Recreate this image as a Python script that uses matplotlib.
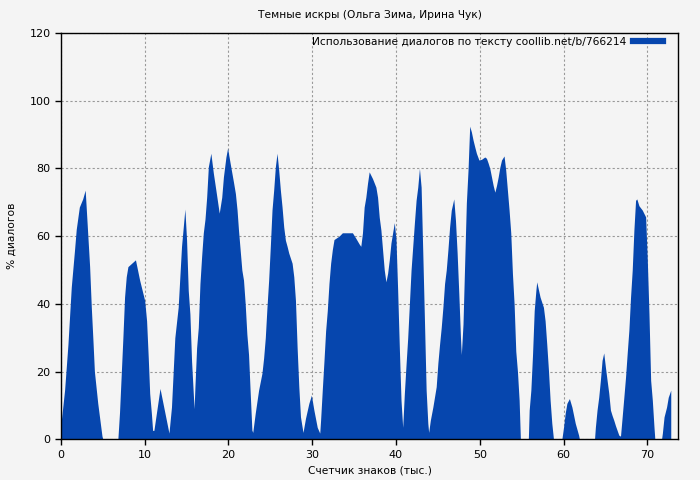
import matplotlib.pyplot as plt
from matplotlib.lines import Line2D

# счетчик знаков (тыс.) и % диалогов
chars = [
    0, 0.44, 0.84, 1.24, 1.63, 1.83, 2.2, 2.6, 2.9, 3.43, 3.63, 3.83, 4.0, 4.4, 4.9, 5.0,
    6.8, 7.0, 7.4, 7.6, 7.8, 8.0, 8.9, 9.4, 10.0, 10.23, 10.43, 10.6, 10.8, 10.95, 11.1,
    11.83, 12.9, 13.2, 13.6, 14.0, 14.4, 14.8, 15.0, 15.2, 15.4, 15.6, 15.9,
    16.0, 16.2, 16.4, 16.6, 16.8, 17.0, 17.2, 17.4, 17.6, 17.9, 18.2, 18.5, 18.9,
    19.2, 19.4, 19.7, 19.9, 20.2, 20.6, 20.83, 21.03, 21.2, 21.4, 21.6, 21.8, 22.0,
    22.2, 22.4, 22.6, 22.8, 22.9, 23.2, 23.6, 24.0, 24.2, 24.4, 24.6, 24.8, 25.0,
    25.2, 25.4, 25.6, 25.8, 26.0, 26.2, 26.4, 26.6, 26.8, 27.0, 27.2, 27.4, 27.6,
    27.8, 28.0, 28.2, 28.4, 28.6, 28.9, 29.2, 29.6, 29.9, 30.2, 30.6, 30.9,
    31.0, 31.2, 31.4, 31.6, 31.8, 32.0, 32.2, 32.4, 32.6, 32.9, 33.2, 33.6, 34.8,
    35.2, 35.6, 35.8, 36.0, 36.2, 36.4, 36.6, 36.8, 37.2, 37.6, 37.8, 38.0, 38.2,
    38.4, 38.6, 38.8, 39.0, 39.2, 39.4, 39.6, 39.8, 40.0, 40.2, 40.4, 40.6, 40.8,
    41.0, 41.2, 41.4, 41.6, 41.8, 42.0, 42.2, 42.4, 42.6, 42.8, 43.0, 43.2, 43.4,
    43.6, 43.8, 43.9, 44.1, 44.4, 44.8, 45.0, 45.2, 45.4, 45.6, 45.8, 46.0, 46.2,
    46.4, 46.6, 46.9, 47.1, 47.3, 47.5, 47.7, 47.8, 48.0, 48.2, 48.4, 48.6, 48.8,
    49.0, 49.2, 49.4, 49.6, 49.9, 50.2, 50.6, 50.8, 51.0, 51.2, 51.4, 51.6, 51.8,
    52.0, 52.2, 52.4, 52.6, 52.9, 53.1, 53.3, 53.5, 53.7, 53.9, 54.1, 54.3, 54.5,
    54.7, 54.85, 55.8, 55.9, 56.1, 56.3, 56.5, 56.7, 56.8, 57.2, 57.6, 57.8, 58.0,
    58.2, 58.4, 58.6, 58.8, 59.8, 60.0, 60.2, 60.4, 60.7, 61.0, 61.4, 61.8, 61.9,
    63.7, 63.8, 64.0, 64.2, 64.4, 64.6, 64.8, 65.0, 65.2, 65.4, 65.6, 65.8, 66.0,
    66.2, 66.4, 66.6, 66.8, 67.0, 67.2, 67.4, 67.6, 67.8, 68.0, 68.2, 68.4, 68.6,
    68.75, 69.0, 69.4, 69.8, 70.0, 70.2, 70.4, 70.6, 70.8, 70.9, 71.7, 71.8, 72.0,
    72.3, 72.5, 72.8,
]
dialog = [
    4.4, 14.5, 28, 45, 56, 62, 68.6, 71, 73.6, 51, 39, 29, 20, 10.6, 1, 0,
    0, 8, 30, 42, 48, 51, 53, 47, 41, 35, 24, 13.5, 7.7, 2.6, 2.6,
    15, 1.8, 9.5, 30, 39, 57, 68, 59, 44, 37, 23, 9,
    15.5, 27, 33, 46, 54, 61, 65, 71.5, 80.5, 84.5, 78.6, 73.6, 66.8,
    71.5, 77.5, 83.4, 86, 81.6, 76, 72.6, 67.7, 61.8, 55.9, 50, 47, 40,
    31, 25, 13.6, 2.7, 2, 7.7, 14.5, 19.5, 24, 30, 39, 47, 57,
    67.7, 73.6, 80.5, 84.5, 79.5, 73.6, 68.6, 62.7, 58.8, 57, 55, 53.5, 52,
    48, 41, 27, 15.5, 6.6, 2, 6.2, 10.6, 13, 8.6, 3.5, 1.8,
    5.6, 14.5, 23, 32, 38, 46, 52, 56, 59, 59.5, 60, 61, 61,
    59.4, 57.7, 57, 61, 68.6, 71.5, 75.6, 79, 77, 74.5, 71.5, 65.6, 61.8,
    55.9, 50, 46.5, 49, 53, 58, 61, 64, 59, 44, 27, 11.5, 3.5,
    13.6, 22, 30, 40, 50, 57, 64, 70.6, 74.5, 80, 74.5, 55, 35,
    14.5, 4.7, 2, 5.6, 9.5, 15.5, 22.5, 28, 33, 39, 46, 50, 56,
    62.7, 67.7, 71, 64.7, 55, 43, 30, 25, 34, 52, 69.8, 79.5, 92.5,
    90.8, 88.4, 86.4, 84.5, 82.5, 82.7, 83.4, 83, 81.6, 80, 77.5, 75, 73,
    75, 77.5, 80.4, 82.5, 83.7, 79.5, 73.6, 67.7, 61, 49, 40, 26, 20,
    11.5, 0, 0, 8.6, 14.5, 25, 38, 44, 46.5, 42, 39, 35, 28,
    20.4, 11.5, 4.7, 0, 0, 3.5, 7.7, 10.6, 12, 9.5, 4.7, 1.2, 0,
    0, 3.5, 8.6, 12.4, 17.4, 23.3, 25.5, 21.3, 17.4, 13.6, 8.6, 7, 5.6,
    4, 2.6, 1.2, 0.9, 6.6, 12.4, 18.3, 25.4, 32.2, 42, 50, 61.8, 70.6,
    71, 69, 67.7, 65.7, 53, 37, 17.4, 11.5, 3.5, 0, 0, 1.8, 6.6,
    9.5, 12.4, 14.5,
]

title = "Темные искры (Ольга Зима, Ирина Чук)"
series_label = "Использование диалогов по тексту coollib.net/b/766214"

bg = "#f4f4f4"
blue = "#0646ae"

fig = plt.figure(figsize=(7, 4.8), dpi=100, facecolor=bg)
ax = fig.add_axes([0.087, 0.085, 0.882, 0.846], facecolor=bg)

ax.fill_between(chars, dialog, 0, color=blue, linewidth=0, zorder=2)

ax.set_xlim(0, 73.7)
ax.set_ylim(0, 120)
ax.set_xticks(range(0, 71, 10))
ax.set_yticks(range(0, 121, 20))
ax.tick_params(labelsize=8, length=4, width=1)
ax.grid(True, linestyle=(0, (2, 2)), color="#999999", linewidth=0.8, zorder=1)
for s in ax.spines.values():
    s.set_linewidth(1)

ax.set_title(title, fontsize=7.7, pad=11)
ax.set_xlabel("Счетчик знаков (тыс.)", fontsize=7.7)
ax.set_ylabel("% диалогов", fontsize=7.7, labelpad=9)

handle = Line2D([], [], color=blue, linewidth=4.5)
ax.legend([handle], [series_label], loc="upper right", frameon=False,
          fontsize=7.7, markerfirst=False, handlelength=2.8,
          bbox_to_anchor=(0.985, 1.007), borderaxespad=0.2,
          handletextpad=0.6)

fig.savefig("out.png", dpi=100, facecolor=bg)
